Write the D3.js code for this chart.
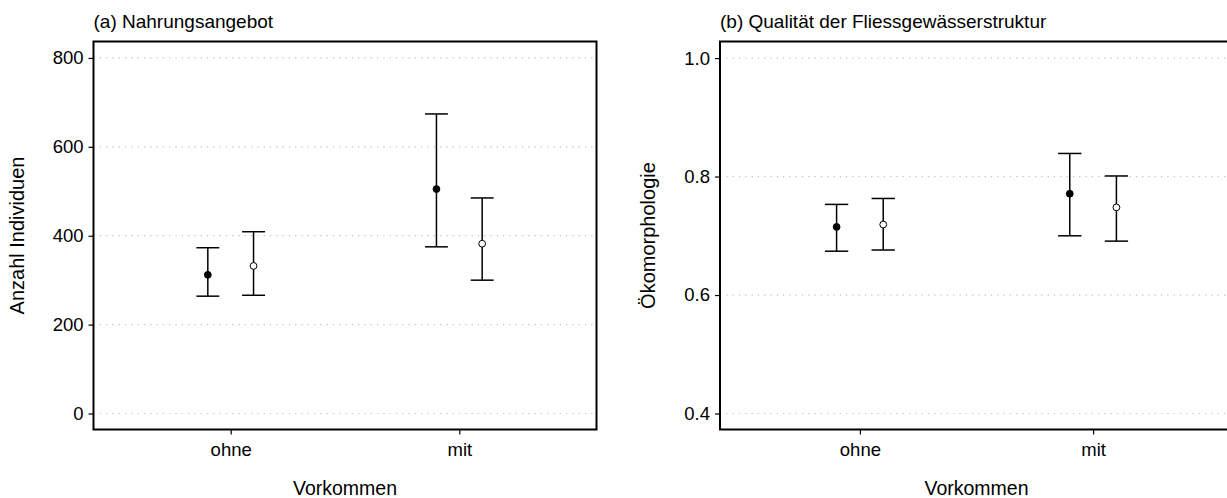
<!DOCTYPE html>
<html lang="de">
<head>
<meta charset="UTF-8">
<script src="https://cdn.jsdelivr.net/npm/d3@7"></script>
<style>
    body { margin: 0; background: #fff; }
    svg { display: block; font-family: "Liberation Sans", Arial, sans-serif; }
    .grid line { stroke: #c4c4c4; stroke-width: 1.2; stroke-dasharray: 1.3 5; }
    .axis path { display: none; }
    .axis line { stroke: #000; stroke-width: 1.2; }
    .axis text { fill: #000; font-size: 18.5px; }
</style>
</head>
<body>
<svg id="chart" width="1227" height="498"></svg>
<script>
    // categories on the x axis
    var kategorien = ["ohne", "mit"];

    // (a) Nahrungsangebot: filled dots and open dots, with error bars
    var nahrungGefuellt = [312, 505];
    var nahrungGefuelltUnten = [264, 375];
    var nahrungGefuelltOben = [373, 674];
    var nahrungOffen = [332, 382];
    var nahrungOffenUnten = [266, 300];
    var nahrungOffenOben = [409, 485];
    var nahrungTicks = [0, 200, 400, 600, 800];

    // (b) Qualitaet der Fliessgewaesserstruktur
    var strukturGefuellt = [0.715, 0.771];
    var strukturGefuelltUnten = [0.674, 0.700];
    var strukturGefuelltOben = [0.753, 0.839];
    var strukturOffen = [0.719, 0.748];
    var strukturOffenUnten = [0.676, 0.691];
    var strukturOffenOben = [0.763, 0.801];
    var strukturTicks = [0.4, 0.6, 0.8, 1.0];

    var svg = d3.select("#chart");

    drawPanel({
        left: 93.5, right: 596.5, top: 41.5, bottom: 429.5,
        domain: [-36, 837], ticks: nahrungTicks, fmt: d3.format("d"),
        title: "(a) Nahrungsangebot", yLabel: "Anzahl Individuen", yLabelX: 17,
        filled: [nahrungGefuellt, nahrungGefuelltUnten, nahrungGefuelltOben],
        open: [nahrungOffen, nahrungOffenUnten, nahrungOffenOben]
    });
    drawPanel({
        left: 720, right: 1233, top: 41.5, bottom: 429.5,
        domain: [0.373, 1.028], ticks: strukturTicks, fmt: d3.format(".1f"),
        title: "(b) Qualität der Fliessgewässerstruktur", yLabel: "Ökomorphologie", yLabelX: 648,
        filled: [strukturGefuellt, strukturGefuelltUnten, strukturGefuelltOben],
        open: [strukturOffen, strukturOffenUnten, strukturOffenOben]
    });

    function drawPanel(p) {
        var x = d3.scalePoint().domain(kategorien).range([p.left, p.right]).padding(0.6);
        var y = d3.scaleLinear().domain(p.domain).range([p.bottom, p.top]);
        var step = x.step();
        var dodge = 0.1 * step;   // half distance between the two series
        var cap = 0.05 * step;    // half width of the error bar caps

        var g = svg.append("g");

        // dotted horizontal grid
        g.append("g").attr("class", "grid")
            .selectAll("line").data(p.ticks).enter().append("line")
            .attr("x1", p.left).attr("x2", p.right)
            .attr("y1", function(d) { return y(d); })
            .attr("y2", function(d) { return y(d); });

        // axes
        g.append("g").attr("class", "axis")
            .attr("transform", "translate(" + p.left + ",0)")
            .call(d3.axisLeft(y).tickValues(p.ticks).tickFormat(p.fmt).tickSize(5).tickPadding(5));
        g.append("g").attr("class", "axis")
            .attr("transform", "translate(0," + p.bottom + ")")
            .call(d3.axisBottom(x).tickSize(5).tickPadding(8));

        // two series, filled and open
        var reihen = [
            { off: -dodge, werte: p.filled, fill: "#000" },
            { off: dodge, werte: p.open, fill: "#fff" }
        ];
        reihen.forEach(function(r) {
            var pts = kategorien.map(function(k, i) {
                return { k: k, m: r.werte[0][i], lo: r.werte[1][i], hi: r.werte[2][i] };
            });
            var eb = g.append("g").attr("stroke", "#000").attr("stroke-width", 1.5);
            eb.selectAll(".v").data(pts).enter().append("line")
                .attr("x1", function(d) { return x(d.k) + r.off; })
                .attr("x2", function(d) { return x(d.k) + r.off; })
                .attr("y1", function(d) { return y(d.lo); })
                .attr("y2", function(d) { return y(d.hi); });
            ["lo", "hi"].forEach(function(key) {
                eb.selectAll(".c" + key).data(pts).enter().append("line")
                    .attr("x1", function(d) { return x(d.k) + r.off - cap; })
                    .attr("x2", function(d) { return x(d.k) + r.off + cap; })
                    .attr("y1", function(d) { return y(d[key]); })
                    .attr("y2", function(d) { return y(d[key]); });
            });
            g.selectAll(null).data(pts).enter().append("circle")
                .attr("cx", function(d) { return x(d.k) + r.off; })
                .attr("cy", function(d) { return y(d.m); })
                .attr("r", 3.4)
                .attr("fill", r.fill)
                .attr("stroke", "#000")
                .attr("stroke-width", 1);
        });

        // panel border
        g.append("rect")
            .attr("x", p.left).attr("y", p.top)
            .attr("width", p.right - p.left).attr("height", p.bottom - p.top)
            .attr("fill", "none").attr("stroke", "#000").attr("stroke-width", 2);

        // texts
        g.append("text").attr("x", p.left).attr("y", 27.5)
            .attr("font-size", 19).text(p.title);
        g.append("text")
            .attr("transform", "translate(" + p.yLabelX + "," + ((p.top + p.bottom) / 2) + ") rotate(-90)")
            .attr("text-anchor", "middle").attr("dy", "0.35em")
            .attr("font-size", 20).text(p.yLabel);
        g.append("text").attr("x", (p.left + p.right) / 2).attr("y", 495)
            .attr("text-anchor", "middle").attr("font-size", 19.5).text("Vorkommen");
    }
</script>
</body>
</html>
